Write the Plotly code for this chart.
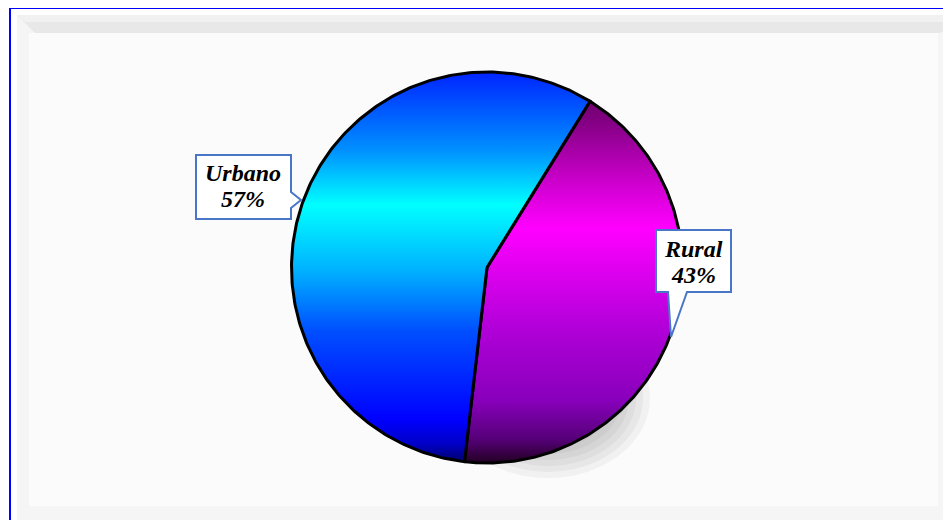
import numpy as np
import plotly.graph_objects as go

# ---- data ----
labels = ["Rural", "Urbano"]
values = [43, 57]

# ---- styles (per slice) ----
slice_colorscales = {
    "Urbano": [
        [0.00, "#000066"], [0.05, "#0000c8"], [0.11, "#0000ff"],
        [0.34, "#0050ff"], [0.49, "#00b0ff"], [0.66, "#00ffff"],
        [0.80, "#0090ff"], [1.00, "#0024ff"],
    ],
    "Rural": [
        [0.00, "#220022"], [0.06, "#550077"], [0.16, "#8800bb"],
        [0.34, "#b000d8"], [0.60, "#ff00ff"], [0.72, "#cc00cc"],
        [0.88, "#800080"], [1.00, "#5a005a"],
    ],
}

# ---- geometry (screen pixel space; page body has an 8px margin) ----
W, H = 951, 520
OFF = 8
CX, CY, R = 487.0, 267.5, 195.5
START_DEG = 31.8  # first slice starts here, clockwise from 12 o'clock

fig = go.Figure()

total = float(sum(values))
angle = START_DEG
for lab, val in zip(labels, values):
    span = 360.0 * val / total
    a = np.radians(np.linspace(angle, angle + span, 240))
    xs = np.concatenate([[CX], CX + R * np.sin(a), [CX]])
    ys = np.concatenate([[CY], CY - R * np.cos(a), [CY]])
    fig.add_trace(go.Scatter(
        x=xs, y=ys, mode="lines", fill="toself",
        fillgradient=dict(type="vertical", colorscale=slice_colorscales[lab],
                          start=CY + R, stop=CY - R),
        line=dict(color="black", width=3),
        hoverinfo="text", text=f"{lab}: {val}%", name=lab,
    ))
    angle += span

shapes = []
# blue outer border (extends beyond right/bottom edges)
shapes.append(dict(type="rect", x0=10, y0=8, x1=975, y1=540,
                   line=dict(color="#0000ff", width=2), fillcolor="white", layer="below"))
# bevel panel
shapes.append(dict(type="rect", x0=17, y0=15, x1=975, y1=540,
                   line=dict(width=0), fillcolor="#f5f5f5", layer="below"))
shapes.append(dict(type="path", path="M17,15 L975,15 L940,33 L35,33 Z",
                   line=dict(width=0), fillcolor="#e8e8e8", layer="below"))
shapes.append(dict(type="path", path="M17,15 L975,15 L960,22 L25,22 Z",
                   line=dict(width=0), fillcolor="#f1f1f1", layer="below"))
shapes.append(dict(type="rect", x0=29, y0=33, x1=938, y1=506,
                   line=dict(width=0), fillcolor="#fbfbfb", layer="below"))
# soft shadow at lower right of the pie
SX, SY = 548, 398
for k in range(7):
    rx, ry = 102 - 7 * k, 80 - 6 * k
    shapes.append(dict(type="circle", x0=SX - rx, x1=SX + rx, y0=SY - ry, y1=SY + ry,
                       line=dict(width=0), fillcolor="rgba(80,80,80,0.055)",
                       layer="below"))

# callout boxes
callout_color = "#4a76c8"
shapes.append(dict(type="path",
                   path="M196,155 L291,155 L291,192 L301,200 L291,208 L291,219 L196,219 Z",
                   line=dict(color=callout_color, width=2), fillcolor="white"))
shapes.append(dict(type="path",
                   path="M656,230 L731,230 L731,292 L687,292 L671,337 L668,292 L656,292 Z",
                   line=dict(color=callout_color, width=2), fillcolor="white"))

label_pos = {"Urbano": (243, 173, 199), "Rural": (693, 249, 275)}
annotations = []
for lab, val in zip(labels, values):
    x, y1, y2 = label_pos[lab]
    pct = f"{round(100 * val / total)}%"
    for txt, yy in [(lab, y1), (pct, y2)]:
        annotations.append(dict(
            x=x, y=yy, xref="x", yref="y", text=f"<b><i>{txt}</i></b>",
            showarrow=False, xanchor="center", yanchor="middle",
            font=dict(family="Liberation Serif, Times New Roman, serif",
                      size=24, color="black"),
        ))

fig.update_layout(
    width=W, height=H,
    margin=dict(l=0, r=0, t=0, b=0),
    paper_bgcolor="white", plot_bgcolor="white",
    showlegend=False,
    xaxis=dict(range=[OFF, W + OFF], visible=False, fixedrange=True),
    yaxis=dict(range=[H + OFF, OFF], visible=False, fixedrange=True),
    shapes=shapes, annotations=annotations,
)

fig.write_html("out.html")
